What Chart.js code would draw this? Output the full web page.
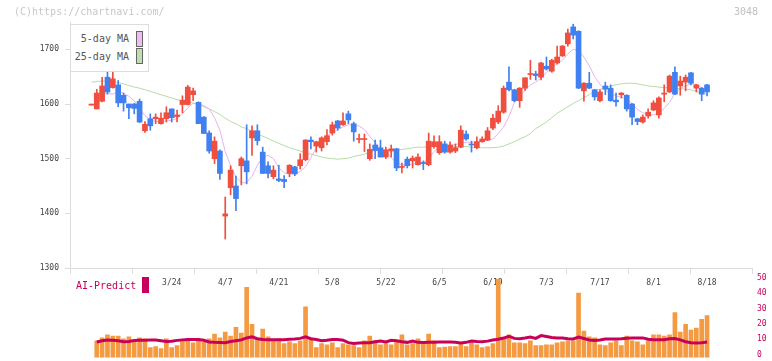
<!DOCTYPE html>
<html>
<head>
<meta charset="utf-8">
<script src="https://cdn.jsdelivr.net/npm/chart.js@4.4.1/dist/chart.umd.min.js"></script>
<style>
  body { margin: 0; width: 772px; height: 361px; overflow: hidden; background: #fff; position: relative; font-family: "DejaVu Sans Mono", monospace; }
  canvas { position: absolute; left: 0; }
  .txt { position: absolute; font-size: 10px; line-height: 12px; white-space: nowrap; }
  .sw { position: absolute; box-sizing: border-box; border: 1px solid #666; }
</style>
</head>
<body>
<canvas id="main" width="772" height="300" style="top:0"></canvas>
<canvas id="sub" width="772" height="100" style="top:268px"></canvas>

<div class="txt" style="left:14px;top:6px;color:#c8c8c8">(C)https://chartnavi.com/</div>
<div class="txt" style="left:734px;top:6px;color:#c0c0c0">3048</div>

<div style="position:absolute;left:70px;top:24px;width:79px;height:48px;box-sizing:border-box;border:1px solid #ddd;background:#fff">
  <div class="txt" style="right:19px;top:8px;color:#555">5-day MA</div>
  <div class="sw" style="left:65px;top:6px;width:7px;height:16px;background:#f0bdf0"></div>
  <div class="txt" style="right:19px;top:26px;color:#555">25-day MA</div>
  <div class="sw" style="left:65px;top:23px;width:7px;height:16px;background:#bfe0ad"></div>
</div>

<div class="txt" style="left:76px;top:280px;color:#c8005a">AI-Predict</div>
<div style="position:absolute;left:142px;top:277px;width:7px;height:16px;background:#c8005a"></div>

<script>
// tick labels (every 10 trading days)
var tickDates = ['3/24','4/7','4/21','5/8','5/22','6/5','6/19','7/3','7/17','8/1','8/18'];
var tickIdx = [15,25,35,45,55,65,75,85,95,105,115];

// daily prices
var open = [1598,1591,1605,1649,1630,1635,1616,1600,1600,1605,
  1551,1573,1573,1564,1573,1591,1577,1599,1599,1617,
  1603,1576,1547,1500,1514,1395,1447,1450,1487,1496,
  1538,1551,1512,1487,1467,1463,1462,1473,1485,1487,
  1498,1534,1523,1520,1531,1547,1569,1562,1582,1564,
  1535,1535,1500,1525,1520,1503,1514,1518,1484,1499,
  1496,1489,1493,1489,1522,1511,1527,1512,1514,1521,
  1545,1526,1520,1531,1534,1556,1567,1585,1640,1626,
  1606,1629,1654,1655,1649,1669,1660,1675,1688,1710,
  1741,1733,1624,1638,1626,1606,1633,1629,1607,1617,
  1616,1600,1573,1567,1578,1589,1580,1618,1622,1658,
  1633,1640,1657,1629,1629,1635];
var high = [1598,1627,1649,1659,1660,1643,1620,1600,1601,1609,
  1568,1582,1582,1584,1595,1591,1589,1615,1634,1629,
  1604,1577,1551,1540,1516,1430,1487,1468,1503,1562,
  1560,1562,1521,1494,1487,1488,1469,1489,1486,1509,
  1535,1540,1532,1540,1553,1567,1570,1584,1587,1567,
  1545,1545,1527,1534,1534,1521,1525,1519,1492,1503,
  1505,1509,1496,1547,1542,1542,1532,1531,1527,1560,
  1551,1532,1540,1540,1557,1581,1597,1633,1668,1627,
  1630,1648,1680,1660,1676,1686,1682,1706,1707,1737,
  1746,1734,1639,1658,1627,1626,1640,1635,1620,1621,
  1617,1601,1574,1580,1591,1606,1613,1635,1653,1668,
  1651,1653,1658,1636,1630,1636];
var low = [1598,1591,1604,1618,1629,1595,1587,1573,1582,1566,
  1548,1552,1564,1563,1567,1567,1567,1584,1598,1606,
  1564,1546,1510,1491,1462,1353,1434,1405,1452,1454,
  1506,1525,1473,1465,1463,1458,1447,1467,1469,1481,
  1496,1518,1512,1514,1525,1543,1552,1561,1564,1532,
  1529,1513,1497,1500,1503,1500,1503,1478,1474,1483,
  1483,1488,1480,1487,1519,1508,1510,1510,1511,1520,
  1534,1512,1518,1530,1533,1553,1564,1583,1624,1604,
  1594,1625,1645,1644,1644,1662,1658,1673,1687,1706,
  1719,1628,1605,1628,1607,1604,1617,1605,1596,1611,
  1587,1562,1562,1565,1574,1588,1574,1604,1621,1617,
  1616,1624,1635,1622,1606,1615];
var close = [1598,1620,1633,1622,1646,1602,1602,1593,1592,1567,
  1563,1560,1576,1574,1584,1575,1580,1607,1631,1624,
  1564,1546,1514,1532,1473,1399,1479,1427,1500,1476,
  1551,1533,1473,1473,1479,1460,1458,1488,1472,1498,
  1534,1531,1531,1538,1542,1562,1556,1569,1571,1549,
  1536,1536,1517,1515,1503,1516,1518,1483,1485,1487,
  1501,1503,1491,1532,1531,1531,1512,1525,1520,1552,
  1536,1525,1531,1536,1551,1574,1587,1629,1626,1606,
  1629,1648,1655,1652,1675,1664,1680,1686,1706,1730,
  1726,1629,1638,1629,1613,1622,1627,1606,1604,1620,
  1591,1576,1568,1576,1585,1602,1611,1620,1651,1618,
  1642,1649,1638,1635,1618,1622];

// moving averages
var ma5 = [null,null,1620,1619,1618,1622,1620,1614,1606,1591,
  1579,1571,1568,1568,1569,1570,1574,1582,1593,1601,
  1600,1597,1591,1575,1552,1513,1487,1466,1456,1456,
  1468,1488,1503,1506,1500,1484,1474,1472,1473,1476,
  1485,1502,1520,1534,1542,1547,1553,1558,1562,1561,
  1560,1553,1541,1529,1520,1514,1502,1492,1489,1488,
  1490,1492,1493,1500,1513,1521,1520,1524,1526,1528,
  1530,1530,1531,1533,1534,1536,1546,1558,1577,1602,
  1614,1625,1635,1640,1648,1657,1667,1674,1680,1692,
  1700,1698,1686,1670,1650,1636,1625,1619,1615,1612,
  1610,1600,1590,1584,1580,1580,1584,1592,1603,1619,
  1628,1633,1637,1636,1630,1624];
var ma25 = [1640,1641,1642,1642,1642,1639,1637,1634,1631,1629,
  1626,1623,1620,1617,1614,1611,1608,1606,1604,1602,
  1599,1595,1591,1586,1581,1574,1568,1564,1558,1555,
  1550,1545,1541,1537,1532,1528,1524,1520,1517,1514,
  1511,1508,1506,1503,1501,1500,1499,1500,1501,1504,
  1506,1508,1512,1515,1515,1516,1516,1517,1517,1518,
  1520,1521,1521,1522,1522,1523,1522,1522,1522,1522,
  1522,1521,1520,1520,1520,1520,1521,1523,1527,1531,
  1536,1540,1546,1555,1561,1567,1575,1583,1589,1595,
  1601,1606,1612,1617,1625,1627,1629,1633,1635,1637,
  1638,1638,1637,1635,1633,1632,1631,1630,1630,1629,
  1628,1627,1626,1623,1620,1618];

// lower panel
var volume = [null,10.8,12.7,14.6,13.9,13.9,12.0,13.3,10.8,12.7,
  12.0,6.3,7.0,5.7,12.0,6.3,7.6,10.1,10.8,9.5,
  10.8,10.1,12.0,15.2,12.7,16.5,13.9,19.6,15.8,45.6,
  21.5,12.0,18.4,13.3,10.8,12.0,8.9,10.1,8.9,10.8,
  32.9,12.0,6.3,8.9,8.2,9.5,6.3,8.9,8.2,7.6,
  6.3,10.8,13.9,10.8,8.2,8.9,8.2,10.8,14.6,8.2,
  8.9,12.0,8.9,15.2,10.8,6.3,6.6,7.0,7.0,8.9,
  7.0,9.5,8.2,6.3,7.0,8.9,51.0,12.7,14.6,9.5,
  9.5,8.9,10.8,7.6,7.6,8.2,8.2,9.5,10.1,10.8,
  10.8,41.8,17.1,13.3,12.7,8.2,7.6,9.5,10.8,7.6,
  13.9,10.8,10.1,8.2,10.8,14.6,14.6,13.9,14.6,29.1,
  16.5,21.5,17.7,19.0,24.7,27.2];
var aiPredict = [null,8.2,9.0,9.6,9.4,9.0,8.4,8.6,9.2,9.3,
  9.4,9.6,9.5,9.1,8.6,8.7,9.3,9.6,9.9,9.9,
  9.9,9.4,8.3,8.0,7.9,7.8,8.5,9.1,9.6,10.9,
  11.6,10.4,9.9,9.7,9.7,9.7,9.7,10.0,10.2,10.6,
  11.6,10.4,9.9,9.0,9.4,9.9,9.9,9.4,7.8,7.2,
  7.6,7.7,7.8,8.4,8.9,8.3,9.4,9.0,8.4,8.0,
  8.8,8.0,7.9,8.0,8.1,8.2,8.2,8.2,8.0,7.6,
  8.0,8.9,8.5,8.4,8.8,9.5,10.0,10.8,12.0,10.6,
  10.3,10.8,11.4,10.6,12.4,11.8,11.2,10.9,10.8,10.4,
  10.2,11.4,10.5,9.6,9.2,9.6,10.2,10.2,10.2,10.4,
  10.7,10.9,10.9,10.9,10.0,9.7,9.7,9.7,10.3,10.5,
  9.6,8.4,7.8,7.6,7.8,8.2];

var priceTicks = [1300,1400,1500,1600,1700];
var aiTicks = [0,10,20,30,40,50];

var X_MIN = -4, X_MAX = 123.4;
var gridTicks = [];
for (var k = 0; k <= 11; k++) gridTicks.push(X_MIN + k * (X_MAX - X_MIN) / 11);

var UP = '#f04e3e', DOWN = '#4080f0';
var colors = close.map(function(c, i){ return c >= open[i] ? UP : DOWN; });
var tickFont = { family: 'DejaVu Sans Mono', size: 8 };

function pts(arr){
  return arr.map(function(v, i){ return { x: i, y: v }; });
}
function plain(v){ return String(v); }

new Chart(document.getElementById('main'), {
  type: 'bar',
  data: {
    datasets: [
      { data: close.map(function(c, i){ return { x: i, y: [open[i], c] }; }),
        backgroundColor: colors, barThickness: 5, minBarLength: 1, grouped: false, order: 0 },
      { data: close.map(function(c, i){ return { x: i, y: [low[i], high[i]] }; }),
        backgroundColor: colors, barThickness: 1, minBarLength: 1, grouped: false, order: 1 },
      { type: 'line', data: pts(ma5), borderColor: '#e8b2ec', borderWidth: 1, pointRadius: 0, order: 2 },
      { type: 'line', data: pts(ma25), borderColor: '#b5dca5', borderWidth: 1, pointRadius: 0, order: 3 }
    ]
  },
  options: {
    responsive: false,
    animation: false,
    devicePixelRatio: 1,
    layout: { padding: { top: 22, right: 20, left: 0, bottom: 0 } },
    plugins: { legend: { display: false }, tooltip: { enabled: false } },
    scales: {
      x: {
        type: 'linear', min: X_MIN, max: X_MAX, offset: false,
        afterBuildTicks: function(s){
          s.ticks = gridTicks.concat(tickIdx).sort(function(a, b){ return a - b; })
            .map(function(v){ return { value: v }; });
        },
        afterFit: function(s){ s.height = 32; },
        ticks: {
          autoSkip: false, maxRotation: 0, padding: 4, color: '#444', font: tickFont,
          callback: function(v){ var j = tickIdx.indexOf(v); return j >= 0 ? tickDates[j] : ''; }
        },
        grid: {
          offset: false, drawOnChartArea: false, tickLength: 6,
          color: function(c){ return c.tick && gridTicks.indexOf(c.tick.value) >= 0 ? '#dcdcdc' : 'rgba(0,0,0,0)'; }
        },
        border: { color: '#dcdcdc' }
      },
      y: {
        min: 1300, max: 1750,
        afterBuildTicks: function(s){ s.ticks = priceTicks.map(function(v){ return { value: v }; }); },
        afterFit: function(s){ s.width = 70; },
        ticks: { padding: 6, color: '#444', font: tickFont, callback: plain },
        grid: { drawOnChartArea: false, tickLength: 5, color: '#dcdcdc' },
        border: { color: '#dcdcdc' }
      }
    }
  }
});

new Chart(document.getElementById('sub'), {
  type: 'bar',
  data: {
    datasets: [
      { type: 'line', data: pts(aiPredict), yAxisID: 'ai', borderColor: '#c8005a', borderWidth: 3,
        pointRadius: 0, order: 0 },
      { data: pts(volume), yAxisID: 'vol', backgroundColor: '#f39a42', barThickness: 4, grouped: false, order: 1 }
    ]
  },
  options: {
    responsive: false,
    animation: false,
    devicePixelRatio: 1,
    layout: { padding: { top: 10, right: 0, left: 70, bottom: 7 } },
    plugins: { legend: { display: false }, tooltip: { enabled: false } },
    scales: {
      x: { type: 'linear', min: X_MIN, max: X_MAX, offset: false, display: false, grid: { offset: false } },
      vol: { display: false, min: -0.6, max: 51.7 },
      ai: {
        position: 'right', min: -2.34, max: 50,
        afterBuildTicks: function(s){ s.ticks = aiTicks.map(function(v){ return { value: v }; }); },
        afterFit: function(s){ s.width = 20; },
        ticks: { padding: 5, color: '#c8005a', font: tickFont, callback: plain },
        grid: { display: false, drawTicks: false },
        border: { display: false }
      }
    }
  }
});
</script>
</body>
</html>
